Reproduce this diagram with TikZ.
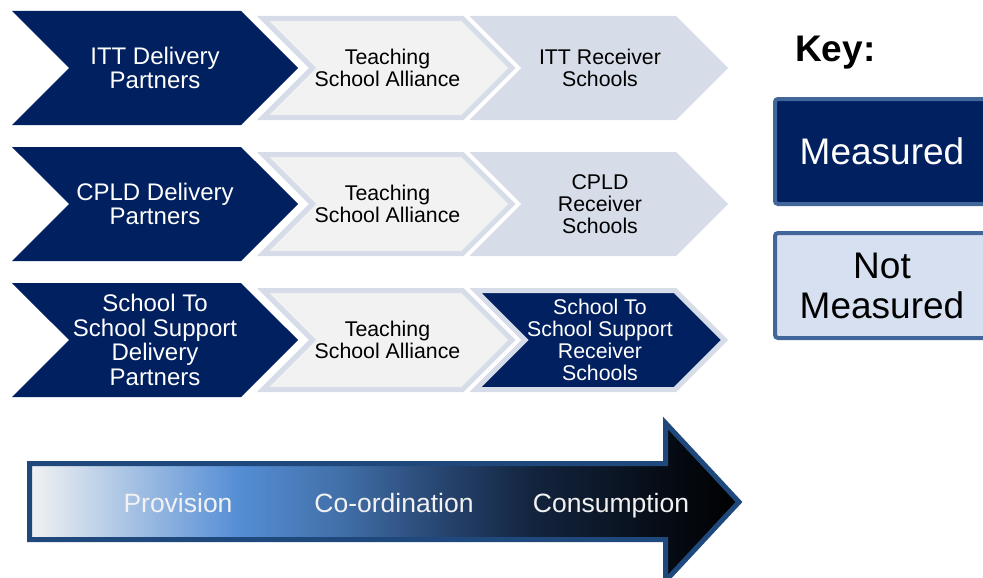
\documentclass[tikz,border=0pt]{standalone}
\usepackage{fontspec}
\setmainfont{Liberation Sans}
\usetikzlibrary{shapes.symbols,positioning}

\definecolor{navy}{HTML}{002060}
\definecolor{palegrey}{HTML}{F2F2F2}
\definecolor{paleblue}{HTML}{D6DCE8}
\definecolor{keyrim}{HTML}{41669A}
\definecolor{keyfill}{HTML}{D6E0F0}
\definecolor{arrowrim}{HTML}{1F497D}
\definecolor{fadestart}{HTML}{F2F2F2}
\definecolor{fadeblue}{HTML}{558ED5}
\definecolor{fademid}{HTML}{416FA8}
\definecolor{fadedeep}{HTML}{284773}
\definecolor{fadenight}{HTML}{13243E}
\definecolor{fadeend}{HTML}{050A12}

\pgfdeclarehorizontalshading{flowfade}{100bp}{color(0bp)=(fadestart); color(25bp)=(fadestart);
  color(39.7bp)=(fadeblue); color(47bp)=(fademid); color(53.6bp)=(fadedeep);
  color(60.4bp)=(fadenight); color(70.6bp)=(fadeend); color(75bp)=(black); color(100bp)=(black)}

\newcommand\leadfont{\fontsize{24}{24.5}\selectfont}
\newcommand\stepfont{\fontsize{21.3}{22}\selectfont}
\newcommand\keyfont{\fontsize{37}{40}\selectfont}
\newcommand\flowfont{\fontsize{26.5}{28}\selectfont}

\tikzset{
  chev/.style={signal, signal from=west, signal to=east, inner sep=0pt, align=center},
  lead/.style={chev, fill=navy, text=white, minimum width=286pt, minimum height=114pt, font=\leadfont},
  link/.style={chev, fill=palegrey, draw=paleblue, line width=5pt, minimum width=249pt, minimum height=99pt, font=\stepfont},
  recv/.style={chev, fill=paleblue, draw=paleblue, line width=5pt, minimum width=249pt, minimum height=99pt, font=\stepfont},
  recvmeasured/.style={recv, fill=navy, text=white},
  keybox/.style={rectangle, rounded corners=3pt, draw=keyrim, line width=4pt, minimum width=214pt, minimum height=105pt, align=center, font=\keyfont},
  flowlabel/.style={text=palegrey, font=\flowfont, inner sep=0pt, anchor=base}
}

\begin{document}
\begin{tikzpicture}[x=1pt, y=-1pt]
  \useasboundingbox (0,0) rectangle (983,578);
  \clip (0,0) rectangle (983,578);

  % ITT row
  \node[recv] (ittrecv) at (600,68) {ITT Receiver\\Schools};
  \node[link] (ittalliance) at (387.5,68) {Teaching\\School Alliance};
  \node[lead] (ittpartners) at (155,68) {ITT Delivery\\Partners};

  % CPLD row
  \node[recv] (cpldrecv) at (600,204) {CPLD\\Receiver\\Schools};
  \node[link] (cpldalliance) at (387.5,204) {Teaching\\School Alliance};
  \node[lead] (cpldpartners) at (155,204) {CPLD Delivery\\Partners};

  % school to school support row
  \node[recvmeasured] (sssrecv) at (600,340) {School To\\School Support\\Receiver\\Schools};
  \node[link] (sssalliance) at (387.5,340) {Teaching\\School Alliance};
  \node[lead] (ssspartners) at (155,340) {School To\\School Support\\Delivery\\Partners};

  % key
  \node[anchor=base west, inner sep=0pt, font=\bfseries\keyfont] (key) at (795,62) {Key:};
  \node[keybox, fill=navy, text=white] (measured) at (882,151.5) {Measured};
  \node[keybox, fill=keyfill] (notmeasured) at (882,285.5) {Not\\Measured};

  % provision to consumption arrow
  \shadedraw[shading=flowfade, draw=arrowrim, line width=5pt]
    (29.5,463.5) -- (665.5,463.5) -- (665.5,423) -- (739,502) -- (665.5,581)
    -- (665.5,539.5) -- (29.5,539.5) -- cycle;
  \node[flowlabel] (provision) at (178,512) {Provision};
  \node[flowlabel] (coordination) at (394,512) {Co-ordination};
  \node[flowlabel] (consumption) at (611,512) {Consumption};
\end{tikzpicture}
\end{document}
